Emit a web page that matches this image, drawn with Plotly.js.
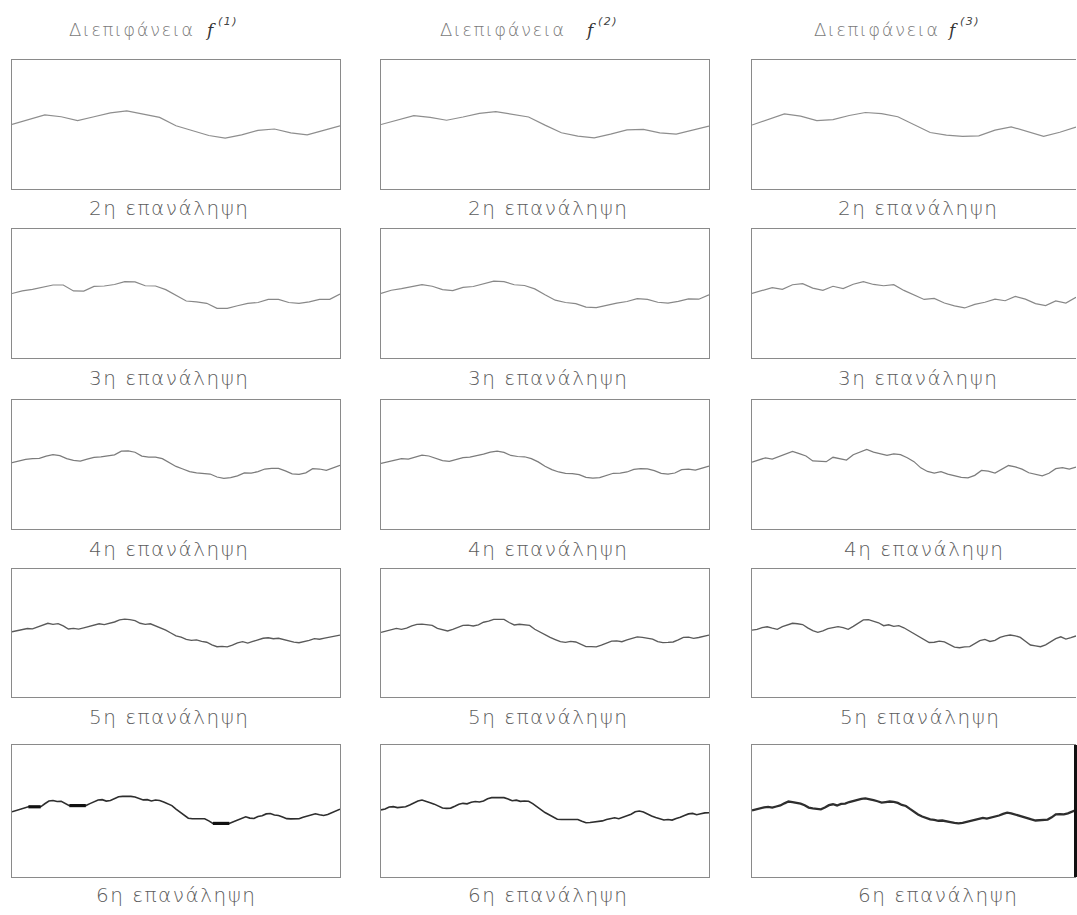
<!DOCTYPE html>
<html>
<head>
<meta charset="utf-8">
<script src="https://cdn.plot.ly/plotly-3.0.1.min.js"></script>
<style>
  html, body { margin: 0; padding: 0; background: #ffffff; }
  #chart { width: 1077px; height: 915px; }
  /* airy, plotter-style lettering for captions */
  .annotation-text { letter-spacing: 1.5px; }
</style>
</head>
<body>
<div id="chart"></div>
<script>
// Interface profiles f(1), f(2), f(3) after successive iterations (2nd .. 6th).
// Heights are on a 0..100 scale of the panel, sampled evenly from left to right.

const columnTitles = ["Διεπιφάνεια", "Διεπιφάνεια", "Διεπιφάνεια"];
const columnSymbol = "f";
const columnIndices = ["(1)", "(2)", "(3)"];
const rowLabels = ["2η επανάληψη", "3η επανάληψη", "4η επανάληψη", "5η επανάληψη", "6η επανάληψη"];

// ---- f(1) ----
const f1_it2 = [50, 54, 57.5, 56, 53, 56, 59, 60.5, 58, 55.5, 49, 45, 41.5, 39.5, 42, 45.5, 46.5, 43.5, 42, 45.5, 49];
const f1_it3 = [50, 52, 53.2, 55, 56.6, 56.6, 52, 51.9, 55.5, 55.8, 57, 59.2, 59, 56, 55.8, 53, 48.5, 44.2, 43.5, 42.4,
  38.5, 38.5, 40.5, 42.4, 43, 45.5, 45.5, 43, 42.4, 43.5, 45.5, 45.5, 49.6];
const f1_it4 = [51.4, 52.5, 54, 54.5, 54.8, 56.5, 57.6, 56.8, 54.5, 53.2, 52.7, 54.2, 55.5, 56, 56.6, 57.5, 60.3, 60.5,
  59.5, 56.5, 55.8, 55.8, 54.5, 51.5, 48.5, 46.5, 44.5, 43.5, 43, 42.6, 40.3, 39.3, 39.8, 41.2, 43.5, 43.3, 44.5, 46.5,
  47, 47, 45, 42.8, 42.4, 43.5, 46.8, 46.5, 45.5, 47.5, 49.4];
const f1_it5 = [51, 51.8, 52.3, 53.5, 53.2, 54.6, 56.5, 57.6, 56.8, 57.3, 55.5, 53.1, 53.6, 53, 54, 55.2, 55.8, 57.2,
  56.5, 57.4, 58.6, 60.2, 60.8, 60.4, 59.6, 57.6, 56.8, 57.2, 55.7, 53.8, 52.2, 50, 47.7, 46.8, 45, 44.2, 44.6, 43.5,
  42.8, 40.8, 39.3, 39.6, 39.2, 40.5, 42.3, 43.2, 42.1, 43.4, 44.6, 45.9, 46.3, 45.5, 45.9, 44.8, 43.6, 42.9, 42.4,
  43.1, 44.2, 45.6, 45.1, 46, 46.9, 47.3, 48.4];
const f1_it6 = [49.4, 50.5, 51.2, 52.4, 53.2, 53.2, 53.2, 53.2, 55.5, 57.6, 57.9, 57.2, 57.4, 56, 54.1, 54.1, 54.1,
  54.1, 54.1, 55.6, 56.8, 58.3, 58.6, 57.5, 57.9, 59.5, 60.8, 61.1, 61.2, 61.1, 60.6, 59.6, 58.4, 58.6, 57.6, 58.3,
  57.9, 56.8, 55.2, 54.1, 51.5, 49.2, 46.8, 44.5, 44.1, 44.2, 44.0, 44.1, 42.5, 40.6, 40.6, 40.6, 40.6, 40.6, 41.8,
  43.2, 44.6, 45.6, 44.6, 44.3, 45.8, 46.4, 47.8, 48.1, 47, 46.6, 45.4, 44.2, 44.0, 44.2, 44.1, 45.3, 46.2, 47.6,
  47.9, 47.2, 46.6, 47.3, 48.6, 49.8, 51.4];

// ---- f(2) ----
const f2_it2 = [50, 53.5, 56.8, 55.5, 53.3, 55.8, 58.6, 60, 58, 55.8, 49.5, 43.6, 41, 39.7, 42.5, 45.8, 46.2, 43.5, 42.5, 45.5, 48.7];
const f2_it3 = [50, 52.5, 53.8, 55.2, 56.8, 55.6, 53, 52.2, 54.8, 55.4, 57.6, 59.6, 59.2, 56.8, 56.2, 53.6, 49, 44.8,
  43, 42.2, 39.4, 39, 40.8, 42.6, 43.8, 46, 45.4, 43.2, 42.6, 43.9, 45.8, 45.6, 49];
const f2_it4 = [50.8, 52, 53.4, 54.6, 54.2, 55.8, 57.2, 56.6, 54.8, 53, 52.4, 53.8, 55.4, 55.8, 56.8, 58, 59.6, 60.4,
  59.4, 57, 56.2, 56, 54.6, 52, 48.6, 46, 44.2, 43.2, 43, 42.2, 40, 39.4, 39.8, 41.4, 43.2, 43.4, 44.2, 46.2, 46.8,
  46.6, 45.2, 43.2, 42.6, 43.4, 46, 46.4, 45.6, 47.2, 48.8];
const f2_it5 = [50.5, 51.5, 52.8, 53.6, 52.9, 53.8, 55.6, 56.8, 56.9, 56.6, 56, 53.6, 52.8, 51.6, 52.8, 54.5, 55.9,
  56.2, 55.5, 56.4, 58.4, 59.2, 60.7, 60.7, 60.6, 58.2, 56.3, 56.8, 56.6, 55.9, 52.9, 50.6, 48.4, 46.6, 44.9, 43.2,
  42.7, 43.4, 43, 41.2, 39.4, 39.3, 39.2, 40.6, 41.9, 43.6, 43.9, 43.2, 44.6, 45.8, 47, 46.6, 46, 45.2, 43.2, 42.5,
  42.7, 43, 44.6, 46.6, 46.8, 45.8, 46.5, 47.6, 48.4];
const f2_it6 = [50.8, 51.5, 53.0, 53.3, 52.6, 52.9, 53.2, 54.6, 56.2, 57.6, 58.3, 57.5, 56.3, 55.2, 53.6, 52.3, 52,
  52.2, 53.6, 55.1, 55.8, 55.4, 56.6, 57.2, 56.8, 57.6, 59.3, 60.1, 60.2, 60.0, 60.1, 59, 57.8, 58.2, 57.3, 57.6,
  57.4, 55.6, 53.2, 50.8, 48.8, 47.2, 45.6, 43.7, 43.6, 43.7, 43.8, 43.7, 43.6, 42.3, 41.1, 41.3, 41.6, 41.9, 42.5,
  43.6, 44.3, 44.9, 44.2, 45.4, 46.2, 47.6, 49.4, 50, 49.2, 47.5, 46.2, 45, 43.8, 43.2, 43.6, 43.1, 44.4, 45.2, 46.6,
  47.8, 48.2, 47.2, 47.9, 48.6, 48.7];

// ---- f(3) ----
const f3_it2 = [49.6, 54, 58.2, 56.5, 53, 53.8, 57, 59.3, 58.4, 56, 50.2, 43.8, 41.8, 40.8, 41.2, 45.6, 48.2, 44.8, 40.8, 44, 48];
const f3_it3 = [50, 52.5, 54.6, 53.2, 56.8, 57.6, 54.2, 52.4, 55.6, 53.8, 57.2, 59.2, 57, 56, 56.8, 52.4, 48.6, 45.4,
  46.2, 42.6, 40.4, 38.8, 41.6, 43.2, 45.6, 44.4, 47.8, 45.6, 42.2, 40.6, 44.2, 42.6, 47];
const f3_it4 = [51.8, 53.4, 55.2, 54.2, 56.4, 58.6, 60.2, 58.4, 56.6, 52.8, 52.4, 52.2, 55.6, 54.2, 53.4, 57.6, 59.8,
  61.6, 59.6, 58.4, 57, 58.2, 57.6, 55.2, 52.2, 47.4, 44.6, 43.4, 44.4, 42.6, 41, 40, 39.6, 41.6, 45.4, 44.8, 43.4,
  46.6, 49.2, 48.2, 46.4, 43.6, 42.6, 41.2, 43.2, 46.8, 47.6, 46.4, 48];
const f3_it5 = [52.3, 52.8, 54.2, 54.9, 53.8, 52.9, 55, 56.2, 57.6, 57.2, 56.6, 54, 51.8, 50.5, 51.6, 53.4, 54.2, 55,
  54.2, 52.9, 55.2, 57.6, 60.2, 60.4, 59.4, 58, 55.7, 56.4, 55.2, 55.7, 54.1, 51.8, 49.3, 47.4, 45, 42.6, 42.8, 43.6,
  43.1, 40.8, 39, 38.5, 39.2, 39.3, 41.6, 44, 45, 43.4, 44.2, 46.6, 47.8, 48.4, 47.8, 46.6, 43.6, 40.6, 40, 39.3,
  40.8, 43.2, 45.6, 47, 45.2, 46.4, 47.7];
const f3_it6 = [50.5, 51.4, 51.9, 52.8, 53.1, 52.6, 53.4, 54.2, 55.8, 57.2, 56.8, 56.2, 55.6, 54.4, 52.6, 52, 51.4,
  51.3, 52.6, 54.4, 55.1, 54.2, 55.4, 55.6, 56.8, 57.6, 58.5, 59.2, 59.5, 59.1, 58.2, 57.4, 56.4, 56.8, 57.2, 56.9,
  56.1, 54.6, 53.8, 51.6, 49.4, 47.4, 45.8, 44.4, 43.6, 43.2, 42.6, 42.8, 42.4, 41.6, 41, 40.6, 41, 41.8, 42.4, 43.4,
  44.4, 44.8, 44.2, 45, 45.4, 46.6, 47.8, 48.7, 48.2, 47.2, 46.1, 45.4, 44.4, 43.6, 42.8, 43.2, 43.6, 43.5, 45.2,
  47.4, 47.6, 47.4, 48.2, 49.6, 50.8];

const grid = [
  [f1_it2, f2_it2, f3_it2],
  [f1_it3, f2_it3, f3_it3],
  [f1_it4, f2_it4, f3_it4],
  [f1_it5, f2_it5, f3_it5],
  [f1_it6, f2_it6, f3_it6]
];

// ---- page geometry (pixels) ----
const W = 1077, H = 915;
const colSpans = [[12, 340], [381, 709], [752, 1076]];
const rowSpans = [[60, 189], [229, 358], [400, 529], [569, 697], [745, 877]];
const labelY = [208, 378, 549, 717, 895];
const labelX = [[169, 548, 918], [169, 548, 918], [169, 548, 924], [169, 548, 920], [176, 548, 938]];
const titleX = [67, 438, 812];
const symbolX = [210, 590, 952];
const indexX = [216, 596, 958];
const titleY = 29;

// line look per iteration row
const lineStyle = [
  { color: "#8e8e8e", width: 1.2 },
  { color: "#888888", width: 1.2 },
  { color: "#7c7c7c", width: 1.25 },
  { color: "#5a5a5a", width: 1.35 },
  { color: "#2e2e2e", width: 1.6 }
];

const fx = v => v / W;
const fy = v => 1 - v / H;

// runs of 3+ equal consecutive values, the rest blanked
function flatRuns(ys) {
  const out = ys.map(() => null);
  let i = 0;
  while (i < ys.length) {
    let j = i;
    while (j + 1 < ys.length && ys[j + 1] === ys[i]) j++;
    if (j - i >= 2) for (let k = i; k <= j; k++) out[k] = ys[k];
    i = j + 1;
  }
  return out;
}

const textFont = { family: "DejaVu Sans", size: 20, color: "#5c5c5c", weight: 300 };

const data = [];
const layout = {
  width: W, height: H,
  margin: { l: 0, r: 0, t: 0, b: 0 },
  paper_bgcolor: "#ffffff",
  plot_bgcolor: "#ffffff",
  showlegend: false,
  annotations: [],
  shapes: []
};

for (let r = 0; r < 5; r++) {
  for (let c = 0; c < 3; c++) {
    const k = r * 3 + c + 1;
    const xa = "xaxis" + (k === 1 ? "" : k);
    const ya = "yaxis" + (k === 1 ? "" : k);
    const xr = "x" + (k === 1 ? "" : k);
    const yr = "y" + (k === 1 ? "" : k);
    const ys = grid[r][c];
    const xs = ys.map((_, i) => i / (ys.length - 1));
    const st = lineStyle[r];
    const w = (r === 4 && c === 2) ? 2.3 : st.width;

    data.push({
      type: "scatter", mode: "lines", x: xs, y: ys, xaxis: xr, yaxis: yr,
      line: { color: st.color, width: w, shape: "linear" },
      hoverinfo: "skip"
    });
    if (r === 4) {
      data.push({
        type: "scatter", mode: "lines", x: xs, y: flatRuns(ys), xaxis: xr, yaxis: yr,
        line: { color: "#111111", width: 3.2 }, connectgaps: false, hoverinfo: "skip"
      });
    }

    const axisCommon = {
      showgrid: false, zeroline: false, showticklabels: false, ticks: "",
      showline: true, mirror: true, linecolor: "#8a8a8a", linewidth: 1.2, fixedrange: true
    };
    layout[xa] = Object.assign({}, axisCommon, {
      domain: [fx(colSpans[c][0]), fx(colSpans[c][1])], range: [0, 1], anchor: yr
    });
    layout[ya] = Object.assign({}, axisCommon, {
      domain: [fy(rowSpans[r][1]), fy(rowSpans[r][0])], range: [0, 100], anchor: xr,
      // the third column runs off the page edge, so its right frame is not drawn
      mirror: c !== 2
    });

    layout.annotations.push({
      xref: "paper", yref: "paper", x: fx(labelX[r][c]), y: fy(labelY[r]),
      xanchor: "center", yanchor: "middle", showarrow: false,
      text: rowLabels[r],
      font: textFont
    });
  }
}

for (let c = 0; c < 3; c++) {
  // column heading: word, italic symbol and its raised index
  layout.annotations.push({
    xref: "paper", yref: "paper", x: fx(titleX[c]), y: fy(titleY),
    xanchor: "left", yanchor: "middle", showarrow: false,
    text: columnTitles[c],
    font: { family: "DejaVu Sans", size: 18, color: "#7a7a7a", weight: 300 }
  });
  layout.annotations.push({
    xref: "paper", yref: "paper", x: fx(symbolX[c]), y: fy(titleY + 1),
    xanchor: "center", yanchor: "middle", showarrow: false,
    text: columnSymbol,
    font: { family: "DejaVu Serif", size: 17, color: "#333333", style: "italic" }
  });
  layout.annotations.push({
    xref: "paper", yref: "paper", x: fx(indexX[c]), y: fy(titleY - 7),
    xanchor: "left", yanchor: "middle", showarrow: false,
    text: columnIndices[c],
    font: { family: "DejaVu Sans", size: 11, color: "#444444", style: "italic" }
  });
}

// dark right edge of the last panel
layout.shapes.push({
  type: "line", xref: "paper", yref: "paper",
  x0: fx(1075.5), x1: fx(1075.5), y0: fy(rowSpans[4][1]), y1: fy(rowSpans[4][0]),
  line: { color: "#111111", width: 3 }
});

Plotly.newPlot("chart", data, layout, { staticPlot: true, displayModeBar: false });
</script>
</body>
</html>
